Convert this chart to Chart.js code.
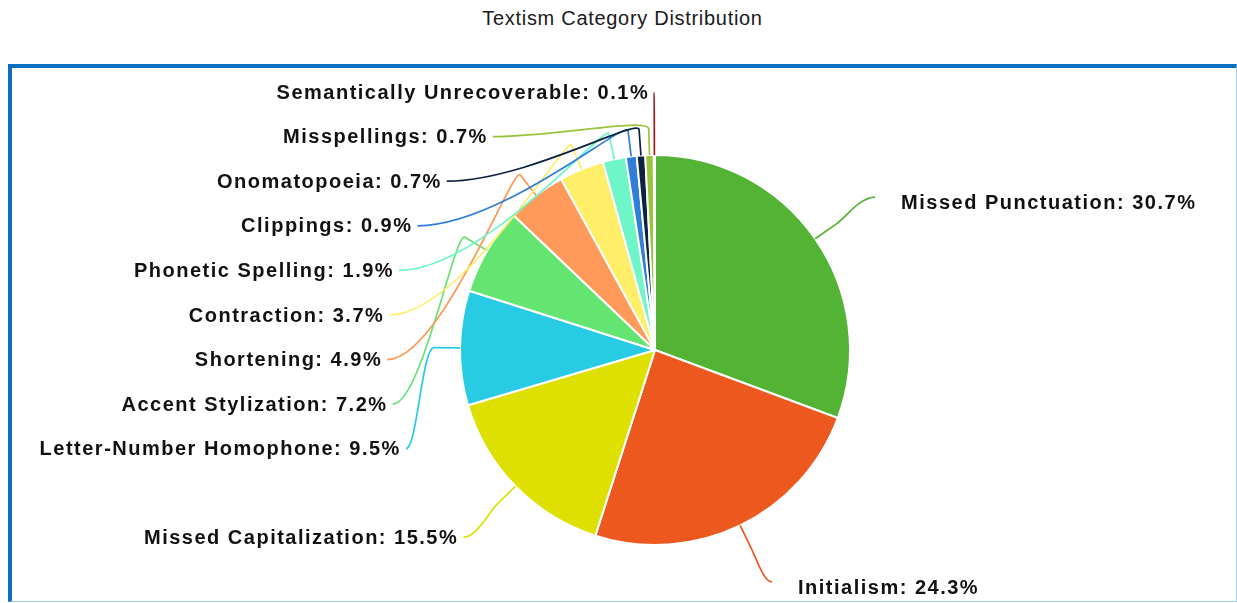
<!DOCTYPE html>
<html>
<head>
<meta charset="utf-8">
<title>Textism Category Distribution</title>
<script src="https://cdn.jsdelivr.net/npm/chart.js@4.4.1/dist/chart.umd.min.js"></script>
<style>
    body {
        margin: 0;
        background: #fff;
        font-family: "Liberation Sans", Arial, sans-serif;
    }
    .heading {
        position: absolute;
        left: 8px;
        top: 0;
        width: 1229px;
        height: 36px;
        line-height: 36px;
        text-align: center;
        font-size: 20px;
        letter-spacing: 0.7px;
        color: #1a1a1a;
    }
    .panel {
        position: absolute;
        left: 8px;
        top: 64px;
        width: 1229px;
        height: 538px;
        box-sizing: border-box;
        border-top: 4px solid #0d6fc2;
        border-left: 4px solid #0d6fc2;
        border-right: 1px solid #a8cdec;
        border-bottom: 1px solid #a8cdec;
    }
    canvas { display: block; }
</style>
</head>
<body>
<div class="heading">Textism Category Distribution</div>
<div class="panel"><canvas id="textismChart" width="1224" height="533"></canvas></div>

<script>
// share of each textism category, in percent
const categories = [
    'Missed Punctuation',
    'Initialism',
    'Missed Capitalization',
    'Letter-Number Homophone',
    'Accent Stylization',
    'Shortening',
    'Contraction',
    'Phonetic Spelling',
    'Clippings',
    'Onomatopoeia',
    'Misspellings',
    'Semantically Unrecoverable'
];
const percentages = [30.7, 24.3, 15.5, 9.5, 7.2, 4.9, 3.7, 1.9, 0.9, 0.7, 0.7, 0.1];
const sliceColors = [
    '#52b334', '#ec581e', '#dde000', '#27cbe3', '#64e572', '#ff9a5a',
    '#ffef68', '#6ef5c8', '#2f7fd8', '#0d2240', '#98c43c', '#a01c1c'
];

// outside labels joined to their slice by a curved line; labels on one side
// are pushed down so they never overlap
const leaderLabels = {
    id: 'leaderLabels',
    afterDatasetsDraw(chart) {
        const ctx = chart.ctx;
        const arcs = chart.getDatasetMeta(0).data;
        if (!arcs.length) return;
        const cx = arcs[0].x, cy = arcs[0].y;
        const r = arcs[0].outerRadius;
        const R = r + 73;
        const rowGap = 44.6;
        const minY = 24, maxY = chart.height - 19;

        const items = arcs.map((arc, i) => {
            const a = (arc.startAngle + arc.endAngle) / 2;
            const dx = Math.cos(a), dy = Math.sin(a);
            return {
                i, dx, dy,
                side: dx >= 0 ? 1 : -1,
                x0: cx + r * dx, y0: cy + r * dy,
                nx: cx + R * dx, ny: cy + R * dy
            };
        });

        [1, -1].forEach(side => {
            const group = items.filter(it => it.side === side).sort((a, b) => a.ny - b.ny);
            let prev = -Infinity;
            group.forEach(it => {
                let y = Math.max(it.ny, minY);
                let x = it.nx;
                if (prev + rowGap > y) {
                    y = prev + rowGap;
                    const off = Math.min(Math.abs(y - cy), R);
                    x = cx + side * Math.sqrt(R * R - off * off);
                }
                y = Math.min(y, maxY);
                it.lx = x;
                it.ly = y;
                prev = y;
            });
        });

        ctx.save();
        ctx.lineWidth = 1.7;
        items.forEach(it => {
            const p1x = it.x0 + it.dx * 26, p1y = it.y0 + it.dy * 26;
            const c1x = p1x + it.dx * 12, c1y = p1y + it.dy * 12;
            const c2x = it.lx - it.side * 0.4 * Math.abs(it.lx - p1x);
            ctx.strokeStyle = sliceColors[it.i];
            ctx.beginPath();
            ctx.moveTo(it.x0, it.y0);
            ctx.lineTo(p1x, p1y);
            ctx.bezierCurveTo(c1x, c1y, c2x, it.ly, it.lx, it.ly);
            ctx.stroke();
        });

        ctx.fillStyle = '#111';
        ctx.font = 'bold 20px "Liberation Sans", Arial, sans-serif';
        ctx.letterSpacing = '1.5px';
        ctx.textBaseline = 'middle';
        items.forEach(it => {
            const text = categories[it.i] + ': ' + percentages[it.i] + '%';
            if (it.side > 0) {
                ctx.textAlign = 'left';
                ctx.fillText(text, it.lx + 26, it.ly + 6);
            } else {
                ctx.textAlign = 'right';
                ctx.fillText(text, it.lx - 5, it.ly + 1);
            }
        });
        ctx.restore();
    }
};

const ctx = document.getElementById('textismChart').getContext('2d');

new Chart(ctx, {
    type: 'pie',
    data: {
        labels: categories,
        datasets: [{
            data: percentages,
            backgroundColor: sliceColors,
            borderColor: '#fff',
            borderWidth: 2,
            hoverOffset: 0
        }]
    },
    options: {
        responsive: false,
        animation: false,
        layout: {
            padding: { left: 447, right: 385, top: 86, bottom: 55 }
        },
        plugins: {
            legend: { display: false },
            tooltip: { enabled: false },
            title: { display: false }
        }
    },
    plugins: [leaderLabels]
});
</script>
</body>
</html>
